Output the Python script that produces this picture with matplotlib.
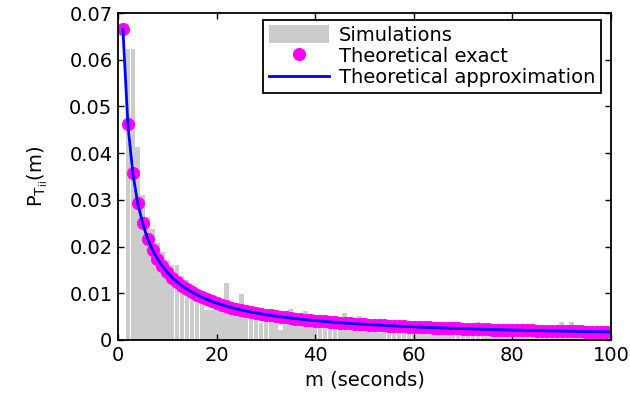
import matplotlib
matplotlib.use('Agg')
import matplotlib.pyplot as plt

# m = 1..100 (seconds)
m_values = list(range(1, 101))

# Theoretical exact / approximation
p_theory = [
    0.0665, 0.0462, 0.0357, 0.0293, 0.0250, 0.0217, 0.0193, 0.0174, 0.0158, 0.0145,
    0.01336, 0.01242, 0.01159, 0.01088, 0.01027, 0.00968, 0.00916, 0.00870, 0.00828, 0.00790,
    0.00755, 0.00724, 0.00695, 0.00668, 0.00644, 0.00621, 0.00599, 0.00579, 0.00561, 0.00543,
    0.00527, 0.00511, 0.00497, 0.00483, 0.00470, 0.00458, 0.00446, 0.00435, 0.00425, 0.00415,
    0.00405, 0.00396, 0.00387, 0.00379, 0.00371, 0.00363, 0.00356, 0.00349, 0.00342, 0.00336,
    0.00330, 0.00323, 0.00318, 0.00312, 0.00306, 0.00301, 0.00296, 0.00291, 0.00286, 0.00282,
    0.00277, 0.00273, 0.00269, 0.00265, 0.00261, 0.00257, 0.00253, 0.00250, 0.00246, 0.00243,
    0.00240, 0.00236, 0.00233, 0.00230, 0.00227, 0.00224, 0.00222, 0.00219, 0.00216, 0.00214,
    0.00211, 0.00209, 0.00206, 0.00204, 0.00201, 0.00199, 0.00197, 0.00194, 0.00192, 0.00191,
    0.00189, 0.00187, 0.00185, 0.00183, 0.00181, 0.00179, 0.00177, 0.00176, 0.00174, 0.00172,
]

# Simulation histogram heights
p_sim = [
    0.0, 0.0624, 0.0622, 0.0414, 0.0310, 0.0264, 0.0238, 0.0208, 0.0188, 0.0172,
    0.0160, 0.0160, 0.0138, 0.0128, 0.0118, 0.0108, 0.0096, 0.0064, 0.0064, 0.0076,
    0.0074, 0.0121, 0.0069, 0.0066, 0.0098, 0.0061, 0.0058, 0.0056, 0.0036, 0.0053,
    0.0051, 0.0049, 0.0021, 0.0047, 0.0066, 0.0044, 0.0043, 0.0062, 0.0041, 0.0040,
    0.0039, 0.0038, 0.0038, 0.0036, 0.0036, 0.0058, 0.0035, 0.0034, 0.0052, 0.0033,
    0.0032, 0.0031, 0.0016, 0.0030, 0.0030, 0.0029, 0.0029, 0.0028, 0.0028, 0.0027,
    0.0027, 0.0026, 0.0026, 0.0025, 0.0025, 0.0013, 0.0025, 0.0024, 0.0024, 0.0023,
    0.0023, 0.0023, 0.0038, 0.0022, 0.0022, 0.0021, 0.0021, 0.0021, 0.0021, 0.0020,
    0.0020, 0.0020, 0.0020, 0.0019, 0.0019, 0.0019, 0.0019, 0.0018, 0.0018, 0.0038,
    0.0018, 0.0038, 0.0017, 0.0017, 0.0017, 0.0017, 0.0016, 0.0012, 0.0016, 0.0016,
]

x_ticks = [0, 20, 40, 60, 80, 100]
y_ticks = [0, 0.01, 0.02, 0.03, 0.04, 0.05, 0.06, 0.07]
y_tick_labels = ['0', '0.01', '0.02', '0.03', '0.04', '0.05', '0.06', '0.07']

plt.rcParams['font.family'] = ['DejaVu Sans']
plt.rcParams['font.size'] = 14
plt.rcParams['mathtext.fontset'] = 'dejavusans'

fig = plt.figure(figsize=(6.3, 3.93), dpi=100)
ax = fig.add_axes([0.1873, 0.1349, 0.7825, 0.832])

bars = ax.bar(m_values, p_sim, width=0.92, color='#cccccc', linewidth=0,
              label='Simulations')
dots, = ax.plot(m_values, p_theory, 'o', color='#ff00ff', markersize=9.5,
                markeredgewidth=0, label='Theoretical exact')
line, = ax.plot(m_values, p_theory, '-', color='#0000ff', linewidth=2,
                label='Theoretical approximation')

ax.set_xlim(0, 100)
ax.set_ylim(0, 0.07)
ax.set_xticks(x_ticks)
ax.set_yticks(y_ticks)
ax.set_yticklabels(y_tick_labels)
ax.tick_params(direction='in', length=4, width=1, top=True, right=True, pad=4)
for spine in ax.spines.values():
    spine.set_linewidth(1.3)

ax.set_xlabel('m (seconds)')
ax.set_ylabel(r'$\mathregular{P_{T_{ii}}(m)}$', labelpad=14)

leg = ax.legend([bars, dots, line],
                ['Simulations', 'Theoretical exact', 'Theoretical approximation'],
                loc='upper right', bbox_to_anchor=(0.98, 0.98), numpoints=1,
                fancybox=False, framealpha=1, edgecolor='black', borderpad=0.3,
                labelspacing=0.1, handlelength=3.1, handleheight=1.0,
                handletextpad=0.5, borderaxespad=0)
leg.get_frame().set_linewidth(1.3)

fig.savefig('out.png', dpi=100)
